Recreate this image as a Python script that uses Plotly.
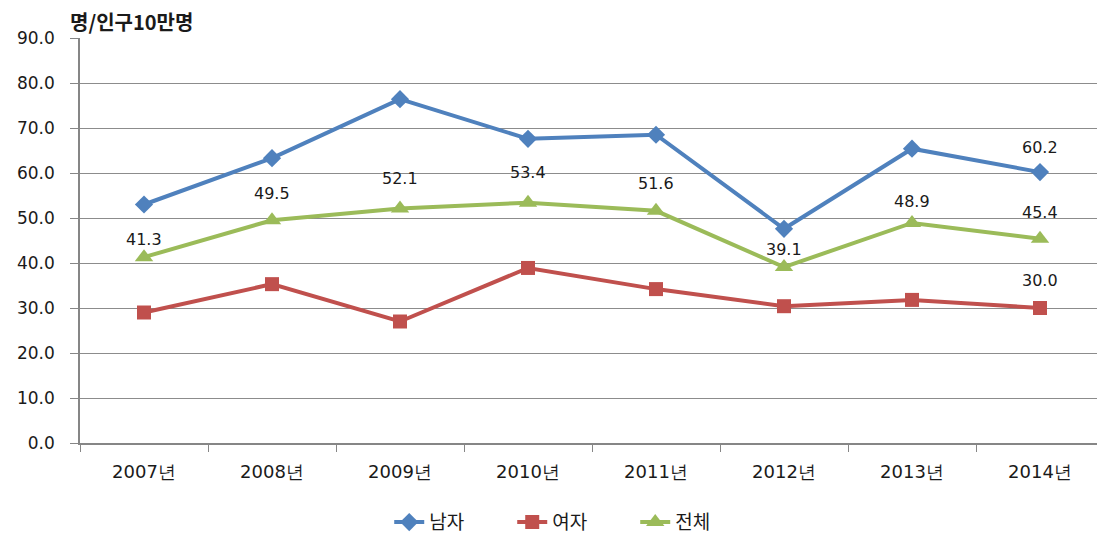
import plotly.graph_objects as go

years = ["2007년", "2008년", "2009년", "2010년", "2011년", "2012년", "2013년", "2014년"]
male = [53.0, 63.3, 76.4, 67.6, 68.5, 47.6, 65.4, 60.2]
female = [29.0, 35.3, 27.0, 38.9, 34.2, 30.4, 31.8, 30.0]
total = [41.3, 49.5, 52.1, 53.4, 51.6, 39.1, 48.9, 45.4]
y_ticks = [0, 10, 20, 30, 40, 50, 60, 70, 80, 90]

# label offsets (pixels above point) - styling only
total_label_shift = [18, 27, 30, 30, 27, 18, 21, 26]

FONT = "DejaVu Sans"
TXT = "#1a1a1a"
fig = go.Figure()
fig.add_trace(go.Scatter(x=years, y=male, name="남자", mode="lines+markers",
                         line=dict(color="#4F81BD", width=4),
                         marker=dict(symbol="diamond", size=14, color="#4F81BD")))
fig.add_trace(go.Scatter(x=years, y=female, name="여자", mode="lines+markers",
                         line=dict(color="#C0504D", width=4),
                         marker=dict(symbol="square", size=14, color="#C0504D")))
fig.add_trace(go.Scatter(x=years, y=total, name="전체", mode="lines+markers",
                         line=dict(color="#9BBB59", width=4),
                         marker=dict(symbol="triangle-up", size=16, color="#9BBB59")))

annotations = []
for xv, yv, sh in zip(years, total, total_label_shift):
    annotations.append(dict(x=xv, y=yv, text=f"{yv:.1f}", showarrow=False, yshift=sh,
                            font=dict(family=FONT, size=16, color=TXT)))
annotations.append(dict(x=years[-1], y=male[-1], text=f"{male[-1]:.1f}", showarrow=False, yshift=25,
                        font=dict(family=FONT, size=16, color=TXT)))
annotations.append(dict(x=years[-1], y=female[-1], text=f"{female[-1]:.1f}", showarrow=False, yshift=28,
                        font=dict(family=FONT, size=16, color=TXT)))
annotations.append(dict(xref="paper", yref="paper", x=-0.0117, y=1.0, yshift=17, xanchor="left",
                        yanchor="middle", text="<b>명/인구10만명</b>", showarrow=False,
                        font=dict(family="Noto Sans CJK KR", size=20, color=TXT)))

fig.update_layout(
    width=1105, height=539,
    margin=dict(l=72, r=9, t=30, b=104, autoexpand=False),
    plot_bgcolor="white", paper_bgcolor="white",
    showlegend=True,
    legend=dict(orientation="h", x=0.345, xref="container", xanchor="left",
                y=0.046, yref="container", yanchor="middle",
                entrywidth=78, entrywidthmode="pixels",
                font=dict(family="Noto Sans CJK KR", size=19, color=TXT)),
    annotations=annotations,
    font=dict(family=FONT),
)
fig.update_xaxes(type="category", range=[-0.5, 7.5], showgrid=False, automargin=False,
                 showline=True, linecolor="#868686", linewidth=1.5,
                 ticks="outside", ticklen=7, tickcolor="#868686", tickson="boundaries",
                 ticklabelstandoff=12,
                 tickfont=dict(family=FONT, size=18, color=TXT))
fig.update_yaxes(range=[0, 90], tickvals=y_ticks, ticktext=[f"{v:.1f}" for v in y_ticks],
                 showgrid=True, gridcolor="#8c8c8c", gridwidth=1, automargin=False,
                 showline=True, linecolor="#868686", linewidth=1.5,
                 ticks="outside", ticklen=8, tickcolor="#868686", zeroline=False,
                 ticklabelstandoff=12,
                 tickfont=dict(family=FONT, size=17, color=TXT))

fig.write_html("out.html")
